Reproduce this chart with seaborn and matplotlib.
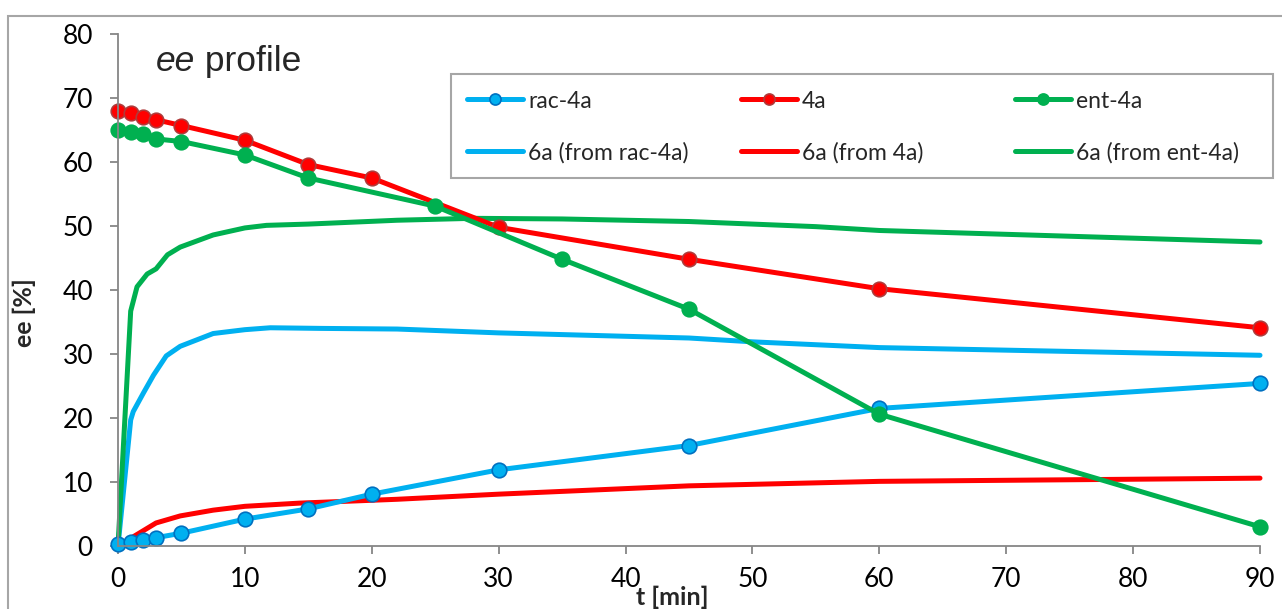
import matplotlib
matplotlib.use("Agg")
import matplotlib.pyplot as plt
import seaborn as sns
from matplotlib.patches import Rectangle

# ---- data ----
t_rac = [0, 1, 2, 3, 5, 10, 15, 20, 30, 45, 60, 90]
ee_rac = [0.3, 0.6, 0.9, 1.3, 2.0, 4.2, 5.8, 8.1, 11.9, 15.7, 21.5, 25.4]

t_4a = [0, 1, 2, 3, 5, 10, 15, 20, 30, 45, 60, 90]
ee_4a = [67.9, 67.7, 67.1, 66.6, 65.7, 63.4, 59.6, 57.5, 49.8, 44.8, 40.2, 34.1]

t_ent = [0, 1, 2, 3, 5, 10, 15, 25, 35, 45, 60, 90]
ee_ent = [65.0, 64.7, 64.4, 63.6, 63.2, 61.1, 57.5, 53.1, 44.8, 37.0, 20.6, 3.0]

t_6rac = [0, 1, 1.2, 2, 2.8, 3.8, 4.9, 7.5, 10, 12, 16, 22, 30, 45, 50, 60, 90]
ee_6rac = [0, 19.7, 21.0, 23.9, 26.7, 29.7, 31.2, 33.2, 33.8, 34.1, 34.0, 33.9, 33.3, 32.5, 31.9, 31.0, 29.8]

t_64a = [0, 1, 2, 3, 4.9, 7.5, 10, 14.3, 22, 30, 45, 60, 90]
ee_64a = [0, 1.2, 2.4, 3.6, 4.7, 5.6, 6.2, 6.7, 7.3, 8.1, 9.4, 10.1, 10.6]

t_6ent = [0, 1, 1.5, 2.3, 3.0, 3.9, 4.9, 7.5, 10, 11.7, 15, 22, 28, 35, 45, 55, 60, 75, 90]
ee_6ent = [0, 36.7, 40.5, 42.5, 43.3, 45.5, 46.7, 48.6, 49.7, 50.1, 50.3, 50.9, 51.2, 51.1, 50.7, 49.9, 49.3, 48.4, 47.5]

x_ticks = [0, 10, 20, 30, 40, 50, 60, 70, 80, 90]
y_ticks = [0, 10, 20, 30, 40, 50, 60, 70, 80]

BLUE = "#00B0F0"
RED = "#FF0000"
GREEN = "#00B050"

sns.set_theme(style="white")
plt.rcParams["font.family"] = ["Lato", "DejaVu Sans"]

W, H = 1282, 609
fig = plt.figure(figsize=(W/100, H/100), dpi=100)
ax = fig.add_axes([118/W, 1-546/H, 1142/W, 512/H])

lw = 3.6
ms = 10.5

sns.lineplot(x=t_6rac, y=ee_6rac, ax=ax, color=BLUE, linewidth=lw, label="6a (from rac-4a)", sort=False)
sns.lineplot(x=t_64a, y=ee_64a, ax=ax, color=RED, linewidth=lw, label="6a (from 4a)", sort=False)
sns.lineplot(x=t_6ent, y=ee_6ent, ax=ax, color=GREEN, linewidth=lw, label="6a (from ent-4a)", sort=False)
sns.lineplot(x=t_rac, y=ee_rac, ax=ax, color=BLUE, linewidth=lw, marker="o", markersize=ms,
             markeredgecolor="#0070C0", markeredgewidth=1.2, label="rac-4a", sort=False)
sns.lineplot(x=t_4a, y=ee_4a, ax=ax, color=RED, linewidth=lw, marker="o", markersize=ms,
             markeredgecolor="#B03A3A", markeredgewidth=1.2, label="4a", sort=False)
sns.lineplot(x=t_ent, y=ee_ent, ax=ax, color=GREEN, linewidth=lw, marker="o", markersize=ms,
             markeredgecolor=GREEN, markeredgewidth=1.2, label="ent-4a", sort=False)

for ln in ax.lines:
    ln.set_clip_on(False)
    ln.set_solid_capstyle("round")

ax.set_xlim(0, 90)
ax.set_ylim(0, 80)
ax.set_xticks(x_ticks)
ax.set_yticks(y_ticks)
ax.tick_params(axis="both", which="major", direction="out", length=6, width=1.3,
               color="#868686", labelsize=19, labelcolor="black", bottom=True, left=True)
ax.tick_params(axis="x", pad=9)
ax.tick_params(axis="y", pad=12)
for s in ["top", "right"]:
    ax.spines[s].set_visible(False)
for s in ["left", "bottom"]:
    ax.spines[s].set_color("#868686")
    ax.spines[s].set_linewidth(1.3)
ax.grid(False)

ax.set_xlabel("t [min]", fontsize=18, fontweight="bold")
ax.set_ylabel("ee [%]", fontsize=18, fontweight="bold")
ax.xaxis.set_label_coords(0.485, -0.077)
ax.yaxis.set_label_coords(-0.072, 0.455)

t1 = ax.text(2.95, 74.2, "ee", style="italic", fontsize=25.5, family=["Liberation Sans"], va="baseline")
ax.annotate(" profile", xy=(1, 0), xycoords=t1, va="bottom", ha="left",
            fontsize=25.5, family=["Liberation Sans"])

handles, labels = ax.get_legend_handles_labels()
hmap = dict(zip(labels, handles))
cols = [["rac-4a", "6a (from rac-4a)"], ["4a", "6a (from 4a)"], ["ent-4a", "6a (from ent-4a)"]]
col_x = [467, 741, 1015]
legs = []
for names, x0 in zip(cols, col_x):
    lg = ax.legend([hmap[k] for k in names], names, loc="upper left",
                   bbox_to_anchor=(x0/W, 1-90.5/H), bbox_transform=fig.transFigure,
                   frameon=False, fontsize=16.5, handlelength=2.45, handletextpad=0.22,
                   labelspacing=1.33, borderaxespad=0, borderpad=0)
    for h in lg.legend_handles:
        h.set_markersize(8)
    legs.append(lg)
for lg in legs[:-1]:
    ax.add_artist(lg)

# legend frame
fig.patches.append(Rectangle((451/W, 1-178/H), 822/W, 104/H, transform=fig.transFigure,
                             fill=False, edgecolor="#A6A6A6", linewidth=1.5))

# outer chart border
fig.patches.append(Rectangle((8/W, -0.2), 1.2, 1.2 - 16/H, transform=fig.transFigure,
                             fill=False, edgecolor="#A6A6A6", linewidth=1.5))

fig.savefig("out.png", dpi=100)
